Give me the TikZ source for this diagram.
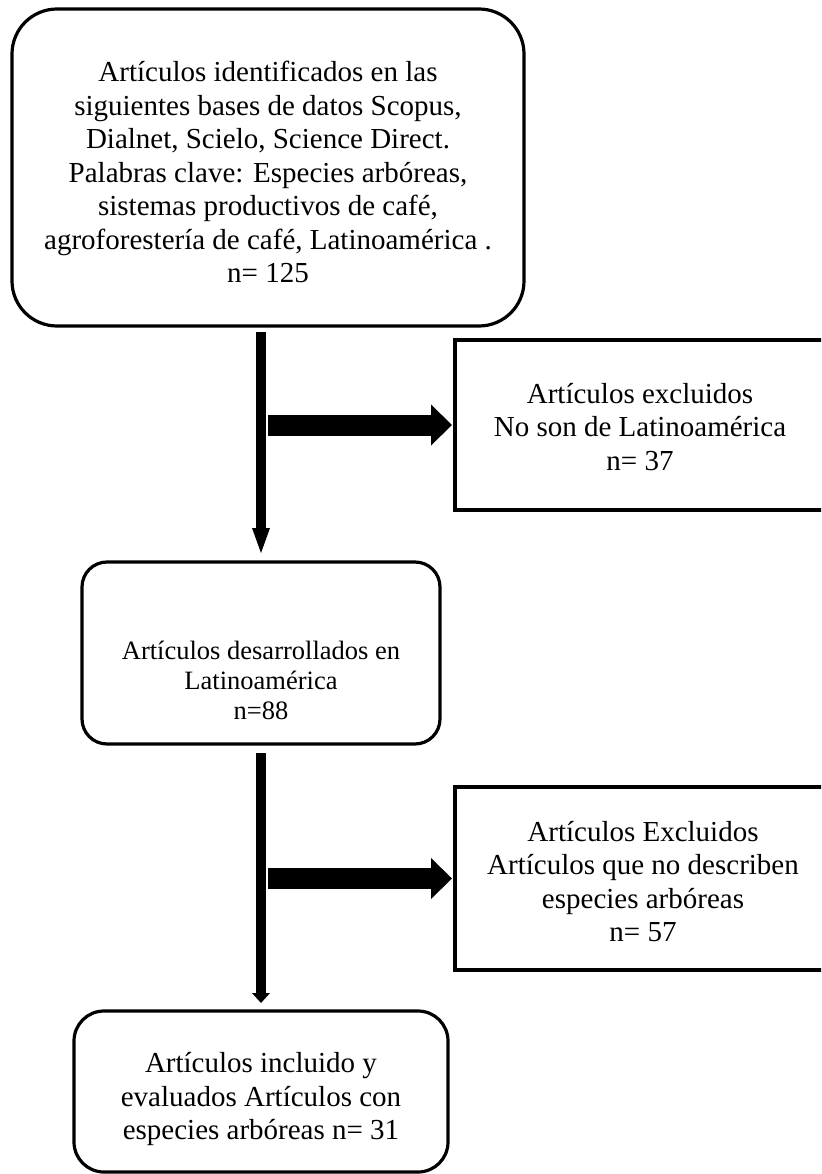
\documentclass[tikz,border=0pt]{standalone}
\usepackage{fontspec}
\setmainfont{Liberation Serif}
\usetikzlibrary{arrows.meta}
\begin{document}
\begin{tikzpicture}[x=1pt,y=-1pt,
  box/.style={draw, line width=3.2pt, inner sep=0pt, outer sep=0pt},
  rbox/.style={box, rounded corners=#1},
  txt/.style={align=center, inner sep=0pt, font=\fontsize{29}{33.5}\selectfont},
  txtsmall/.style={align=center, inner sep=0pt, font=\fontsize{26.5}{30}\selectfont},
  vconn/.style={line width=10pt, -{Triangle[width=18pt,length=#1,line width=0pt]}},
  hconn/.style={line width=21pt, -{Triangle[width=41pt,length=21pt,line width=0pt]}}]
\useasboundingbox (0,0) rectangle (821,1174);
\clip (0,0) rectangle (821,1174);
\fill[white] (0,0) rectangle (821,1174);

% boxes
\node[rbox=45pt, minimum width=512pt, minimum height=317pt] (b1) at (268,167.5) {};
\node[box, minimum width=370pt, minimum height=170pt] (b2) at (640,425) {};
\node[rbox=25pt, minimum width=358pt, minimum height=182pt] (b3) at (261,653) {};
\node[box, minimum width=376pt, minimum height=183pt] (b4) at (643,878.5) {};
\node[rbox=30pt, minimum width=374pt, minimum height=161pt] (b5) at (261,1091.5) {};

% texts
\node[txt] (t1) at (268,172) {Artículos identificados en las\\siguientes bases de datos Scopus,\\Dialnet, Scielo, Science Direct.\\Palabras clave: Especies arbóreas,\\sistemas productivos de café,\\agroforestería de café, Latinoamérica .\\n= 125};
\node[txt] (t2) at (640,427) {Artículos excluidos\\No son de Latinoamérica\\n= 37};
\node[txtsmall] (t3) at (261,680) {Artículos desarrollados en\\Latinoamérica\\n=88};
\node[txt] (t4) at (643,881.5) {Artículos Excluidos\\Artículos que no describen\\especies arbóreas\\n= 57};
\node[txt] (t5) at (261,1099) {Artículos incluido y\\evaluados Artículos con\\especies arbóreas n= 31};

% connectors
\draw[vconn=25pt] ([yshift=-6pt]b3.north |- b1.south) -- ([yshift=9pt]b3.north);
\draw[hconn] ([xshift=7pt]b3.north |- b2.west) -- ([xshift=-3pt]b2.west);
\draw[vconn=10pt] ([yshift=-9pt]b3.south) -- ([yshift=8pt]b5.north);
\draw[hconn] ([xshift=7pt]b3.south |- b4.west) -- ([xshift=-3pt]b4.west);
\end{tikzpicture}
\end{document}
